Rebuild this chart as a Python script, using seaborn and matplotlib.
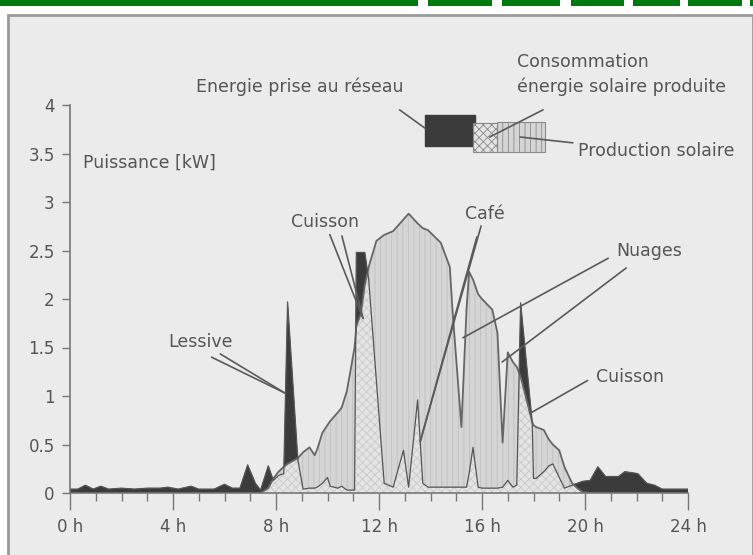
import numpy as np
import pandas as pd
import matplotlib
matplotlib.use("Agg")
import matplotlib.pyplot as plt
from matplotlib.patches import Rectangle
import seaborn as sns

# Daily load profile of a house with PV
hours = [0.0, 0.3, 0.6, 0.9, 1.2, 1.5, 2.0, 2.5, 3.0, 3.5, 3.8, 4.2, 4.7, 5.0, 5.6,
         6.0, 6.3, 6.6, 6.9, 7.2, 7.4, 7.7, 7.9, 8.1, 8.3, 8.45, 8.85, 9.05, 9.3,
         9.5, 9.6, 9.8, 10.0, 10.1, 10.4, 10.55, 10.75, 10.9, 11.05, 11.12, 11.3,
         11.45, 11.6, 11.9, 12.2, 12.55, 12.95, 13.15, 13.5, 13.7, 13.9, 14.4,
         14.75, 14.85, 15.2, 15.4, 15.5, 15.65, 15.85, 16.0, 16.4, 16.6, 16.8,
         17.0, 17.2, 17.35, 17.5, 17.95, 18.0, 18.1, 18.4, 18.6, 18.75, 19.0,
         19.2, 19.5, 19.7, 19.9, 20.2, 20.5, 20.8, 21.3, 21.55, 22.05, 22.4,
         22.7, 23.0, 24.0]
consumption = [0.04, 0.04, 0.08, 0.04, 0.07, 0.04, 0.05, 0.04, 0.05, 0.05, 0.06,
               0.04, 0.07, 0.04, 0.04, 0.09, 0.05, 0.05, 0.29, 0.10, 0.03, 0.28,
               0.13, 0.18, 0.20, 1.97, 0.34, 0.04, 0.05, 0.05, 0.06, 0.10, 0.16,
               0.07, 0.05, 0.07, 0.03, 0.03, 0.03, 2.48, 2.48, 2.48, 2.20, 1.15,
               0.10, 0.06, 0.44, 0.06, 0.96, 0.10, 0.06, 0.06, 0.06, 0.06, 0.06,
               0.06, 0.20, 0.47, 0.06, 0.05, 0.05, 0.05, 0.06, 0.13, 0.06, 0.08,
               1.96, 0.73, 0.15, 0.15, 0.22, 0.28, 0.30, 0.16, 0.05, 0.08, 0.10,
               0.12, 0.13, 0.27, 0.17, 0.17, 0.22, 0.20, 0.10, 0.08, 0.04, 0.04]
production = [0.0, 0.0, 0.0, 0.0, 0.0, 0.0, 0.0, 0.0, 0.0, 0.0, 0.0, 0.0, 0.0, 0.0,
              0.0, 0.0, 0.0, 0.0, 0.0, 0.0, 0.0, 0.05, 0.15, 0.22, 0.27, 0.30,
              0.36, 0.42, 0.47, 0.39, 0.45, 0.62, 0.70, 0.74, 0.83, 0.88, 1.05,
              1.27, 1.50, 1.72, 1.85, 2.15, 2.33, 2.60, 2.66, 2.70, 2.82, 2.88,
              2.78, 2.73, 2.71, 2.58, 2.33, 1.90, 0.68, 1.90, 2.28, 2.20, 2.05,
              2.00, 1.89, 1.65, 0.52, 1.45, 1.35, 1.30, 1.20, 0.73, 0.70, 0.68,
              0.65, 0.55, 0.50, 0.44, 0.27, 0.10, 0.05, 0.01, 0.0, 0.0, 0.0, 0.0,
              0.0, 0.0, 0.0, 0.0, 0.0, 0.0]

y_ticks = [0, 0.5, 1, 1.5, 2, 2.5, 3, 3.5, 4]
y_labels = ["0", "0.5", "1", "1.5", "2", "2.5", "3", "3.5", "4"]
x_ticks = [0, 4, 8, 12, 16, 20, 24]
x_labels = [f"{t} h" for t in x_ticks]

df = pd.DataFrame({"heure": hours, "consommation": consumption, "production": production})

sns.set_style("ticks")
plt.rcParams["font.family"] = ["DejaVu Sans"]
plt.rcParams["hatch.linewidth"] = 0.6

TXT = "#555555"
DARK = "#3b3b3b"
LINE = "#666666"

fig = plt.figure(figsize=(7.53, 5.55), dpi=100, facecolor="white")

# page decoration: green header strip and scanned panel
for x0, x1 in [(0, 418), (428, 492), (502, 560), (571, 624), (633, 680), (688, 742), (750, 753)]:
    fig.add_artist(Rectangle((x0 / 753, 549 / 555), (x1 - x0) / 753, 6 / 555,
                             transform=fig.transFigure, facecolor="#007a0e", edgecolor="none"))
fig.add_artist(Rectangle((8 / 753, -0.01), 0.99, 540 / 555 + 0.01, transform=fig.transFigure,
                         facecolor="#ebebeb", edgecolor="#9a9a9a", linewidth=2, zorder=-5))

ax = fig.add_axes([70 / 753, 62 / 555, 618 / 753, 388 / 555])
ax.set_facecolor("none")

h = df["heure"].to_numpy()
c = df["consommation"].to_numpy()
p = df["production"].to_numpy()

# solar production (light, vertical hatching)
ax.fill_between(h, 0, p, facecolor="#d5d5d5", hatch="|||", edgecolor="#c0c0c0", linewidth=0)
# energy taken from the grid (dark)
ax.fill_between(h, p, c, where=c >= p, interpolate=True, facecolor=DARK, edgecolor=DARK, linewidth=0.3)
# self-consumed solar energy (dotted)
ax.fill_between(h, 0, np.minimum(c, p), facecolor="#e4e4e4", hatch="xxxx", edgecolor="#c9c9c9", linewidth=0)

sun = df[(df["heure"] >= 7.4) & (df["heure"] <= 20.2)]
sns.lineplot(data=sun, x="heure", y="production", ax=ax, color=LINE, linewidth=1.3)
sns.lineplot(data=df, x="heure", y="consommation", ax=ax, color="#555555", linewidth=0.9)

ax.set_xlim(0, 24)
ax.set_ylim(0, 4)
ax.set_xlabel("")
ax.set_ylabel("")
ax.set_xticks(x_ticks)
ax.set_xticklabels(x_labels)
ax.set_xticks(range(0, 25), minor=True)
ax.set_yticks(y_ticks)
ax.set_yticklabels(y_labels)
ax.tick_params(axis="x", which="major", length=12, width=1, color="#777777", labelsize=12,
               labelcolor=TXT, pad=6)
ax.tick_params(axis="x", which="minor", length=6, width=1, color="#777777")
ax.tick_params(axis="y", length=6, width=1, color="#777777", labelsize=12, labelcolor=TXT, pad=5)
for s in ["top", "right"]:
    ax.spines[s].set_visible(False)
for s in ["left", "bottom"]:
    ax.spines[s].set_color("#777777")
    ax.spines[s].set_linewidth(1.2)

fs = 12.5
ax.text(0.5, 3.4, "Puissance [kW]", fontsize=fs, color=TXT, ha="left", va="center")

line_kw = dict(arrowprops=dict(arrowstyle="-", color="#5a5a5a", linewidth=1.2, shrinkA=0, shrinkB=0),
               fontsize=fs, color=TXT, annotation_clip=False)
ax.annotate("Lessive", xy=(8.35, 1.03), xytext=(5.05, 1.56), ha="center", va="center", **line_kw)
ax.annotate("", xy=(8.35, 1.03), xytext=(5.5, 1.40), **line_kw)
ax.annotate("Cuisson", xy=(11.38, 1.80), xytext=(9.9, 2.79), ha="center", va="center", **line_kw)
ax.annotate("", xy=(11.38, 1.80), xytext=(10.56, 2.65), **line_kw)
ax.annotate("Café", xy=(13.6, 0.53), xytext=(16.1, 2.88), ha="center", va="center", **line_kw)
ax.annotate("", xy=(13.6, 0.53), xytext=(15.8, 2.64), **line_kw)
ax.text(22.5, 2.5, "Nuages", fontsize=fs, color=TXT, ha="center", va="center")
ax.annotate("", xy=(15.26, 1.60), xytext=(20.9, 2.42), **line_kw)
ax.annotate("", xy=(16.78, 1.35), xytext=(21.6, 2.32), **line_kw)
ax.text(21.75, 1.2, "Cuisson", fontsize=fs, color=TXT, ha="center", va="center")
ax.annotate("", xy=(17.86, 0.82), xytext=(20.1, 1.16), **line_kw)

# legend drawn as in the original figure
ax.add_patch(Rectangle((13.79, 3.58), 1.94, 0.32, facecolor=DARK, edgecolor=DARK, clip_on=False))
ax.add_patch(Rectangle((16.58, 3.52), 1.87, 0.30, facecolor="#d5d5d5", hatch="|||",
                       edgecolor="#8a8a8a", linewidth=0.8, clip_on=False))
ax.add_patch(Rectangle((15.65, 3.52), 0.93, 0.29, facecolor="#e4e4e4", hatch="xxxx",
                       edgecolor="#8a8a8a", linewidth=0.8, clip_on=False))
ax.text(8.93, 4.19, "Energie prise au réseau", fontsize=fs, color=TXT, ha="center", va="center")
ax.annotate("", xy=(13.79, 3.76), xytext=(12.8, 3.95), **line_kw)
ax.text(17.36, 4.44, "Consommation", fontsize=fs, color=TXT, ha="left", va="center")
ax.text(17.36, 4.19, "énergie solaire produite", fontsize=fs, color=TXT, ha="left", va="center")
ax.annotate("", xy=(16.3, 3.67), xytext=(18.37, 3.95), **line_kw)
ax.text(19.73, 3.53, "Production solaire", fontsize=fs, color=TXT, ha="left", va="center")
ax.annotate("", xy=(17.48, 3.67), xytext=(19.53, 3.61), **line_kw)

fig.savefig("out.png", dpi=100, facecolor="white")
